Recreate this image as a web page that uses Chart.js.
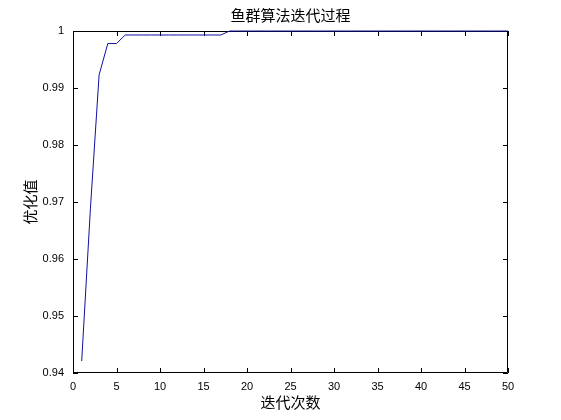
<!DOCTYPE html>
<html>
<head>
<meta charset="utf-8">
<title>鱼群算法迭代过程</title>
<script src="https://cdn.jsdelivr.net/npm/chart.js@4/dist/chart.umd.min.js"></script>
<style>
    html, body { margin: 0; padding: 0; background: #fff; }
    #wrap { width: 561px; height: 420px; }
</style>
</head>
<body>
<div id="wrap"><canvas id="fishChart" width="561" height="420"></canvas></div>
<script>
// iteration numbers and best fitness per iteration
const iterations = [
    1, 2, 3, 4, 5, 6, 7, 8, 9, 10,
    11, 12, 13, 14, 15, 16, 17, 18, 19, 20,
    21, 22, 23, 24, 25, 26, 27, 28, 29, 30,
    31, 32, 33, 34, 35, 36, 37, 38, 39, 40,
    41, 42, 43, 44, 45, 46, 47, 48, 49, 50
];
const bestValues = [
    0.9421, 0.9688, 0.9923, 0.9978, 0.9978, 0.9993, 0.9993, 0.9993, 0.9993, 0.9993,
    0.9993, 0.9993, 0.9993, 0.9993, 0.9993, 0.9993, 0.9993, 1.0000, 1.0000, 1.0000,
    1.0000, 1.0000, 1.0000, 1.0000, 1.0000, 1.0000, 1.0000, 1.0000, 1.0000, 1.0000,
    1.0000, 1.0000, 1.0000, 1.0000, 1.0000, 1.0000, 1.0000, 1.0000, 1.0000, 1.0000,
    1.0000, 1.0000, 1.0000, 1.0000, 1.0000, 1.0000, 1.0000, 1.0000, 1.0000, 1.0000
];
const xTicks = [0, 5, 10, 15, 20, 25, 30, 35, 40, 45, 50];
const yTicks = [0.94, 0.95, 0.96, 0.97, 0.98, 0.99, 1];

const chartTitle = '鱼群算法迭代过程';
const xTitle = '迭代次数';
const yTitle = '优化值';

const cjkFont = "'Noto Sans CJK SC', sans-serif";
const tickFont = "'Liberation Sans', Arial, sans-serif";

Chart.defaults.color = '#000';

// matlab style box with ticks pointing inward on all four sides
// drawn before the data so the line sits on top of the frame
const boxPlugin = {
    id: 'matlabBox',
    beforeDatasetsDraw(chart) {
        const ctx = chart.ctx;
        const area = chart.chartArea;
        const xs = chart.scales.x;
        const ys = chart.scales.y;
        const len = 5;
        ctx.save();
        ctx.strokeStyle = '#000';
        ctx.lineWidth = 1;
        ctx.beginPath();
        ctx.rect(area.left + 0.5, area.top + 0.5, area.right - area.left - 1, area.bottom - area.top - 1);
        xTicks.forEach(function(t) {
            const px = Math.round(xs.getPixelForValue(t)) + 0.5;
            ctx.moveTo(px, area.bottom);
            ctx.lineTo(px, area.bottom - len);
            ctx.moveTo(px, area.top);
            ctx.lineTo(px, area.top + len);
        });
        yTicks.forEach(function(t) {
            const py = Math.round(ys.getPixelForValue(t)) + 0.5;
            ctx.moveTo(area.left, py);
            ctx.lineTo(area.left + len, py);
            ctx.moveTo(area.right, py);
            ctx.lineTo(area.right - len, py);
        });
        ctx.stroke();
        ctx.restore();
    }
};

const ctx = document.getElementById('fishChart').getContext('2d');
const fishChart = new Chart(ctx, {
    type: 'line',
    data: {
        datasets: [{
            label: yTitle,
            data: iterations.map(function(it, i) { return { x: it, y: bestValues[i] }; }),
            borderColor: '#1010a0',
            borderWidth: 1,
            pointRadius: 0,
            tension: 0,
            fill: false,
            clip: 2
        }]
    },
    options: {
        responsive: false,
        animation: false,
        // left padding keeps the title centred over the plot box
        layout: {
            padding: { left: 20, right: 0, top: 0, bottom: 0 }
        },
        plugins: {
            legend: { display: false },
            tooltip: { enabled: false },
            title: {
                display: true,
                text: chartTitle,
                color: '#000',
                font: { family: cjkFont, size: 15, weight: 'normal', lineHeight: 1.2 },
                padding: { top: 6, bottom: 7 }
            }
        },
        scales: {
            x: {
                type: 'linear',
                min: 0,
                max: 50,
                afterBuildTicks: function(scale) {
                    scale.ticks = xTicks.map(function(v) { return { value: v }; });
                },
                afterFit: function(scale) { scale.height = 47; },
                grid: { display: false, drawTicks: false },
                border: { display: false },
                ticks: {
                    padding: 7,
                    maxRotation: 0,
                    font: { family: tickFont, size: 11 },
                    color: '#000'
                },
                title: {
                    display: true,
                    text: xTitle,
                    font: { family: cjkFont, size: 15, lineHeight: 1.2 },
                    padding: { top: 0, bottom: 9 },
                    color: '#000'
                }
            },
            y: {
                type: 'linear',
                min: 0.94,
                max: 1,
                afterBuildTicks: function(scale) {
                    scale.ticks = yTicks.map(function(v) { return { value: v }; });
                },
                afterFit: function(scale) { scale.width = 53; },
                grid: { display: false, drawTicks: false },
                border: { display: false },
                ticks: {
                    padding: 9,
                    font: { family: tickFont, size: 11 },
                    color: '#000',
                    callback: function(v) { return String(Number(v.toFixed(2))); }
                },
                title: {
                    display: true,
                    text: yTitle,
                    font: { family: cjkFont, size: 15, lineHeight: 1.2 },
                    padding: { top: 1, bottom: 0 },
                    color: '#000'
                }
            },
            // empty right-hand axis that only reserves the margin
            yRight: {
                type: 'linear',
                position: 'right',
                display: true,
                afterFit: function(scale) { scale.width = 53; },
                grid: { display: false, drawTicks: false },
                border: { display: false },
                ticks: { display: false },
                title: { display: false }
            }
        }
    },
    plugins: [boxPlugin]
});
</script>
</body>
</html>
